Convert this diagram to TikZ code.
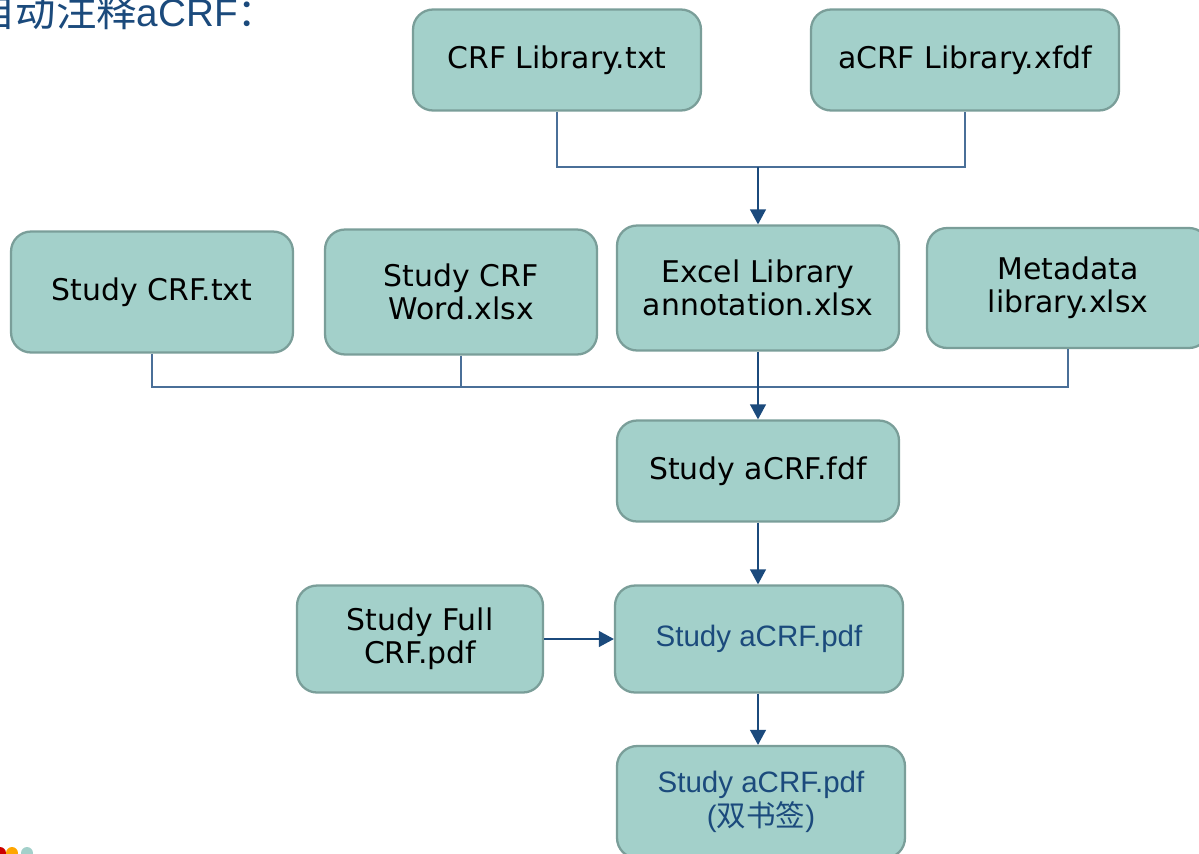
\documentclass[tikz,border=0pt]{standalone}
\usepackage{fontspec}
\setmainfont{DejaVu Sans}
\newfontfamily\arialfont{Liberation Sans}
\newfontfamily\cjkfont{Noto Sans CJK SC}
\usetikzlibrary{arrows.meta}
\definecolor{boxfill}{HTML}{A3D0CA}
\definecolor{boxline}{HTML}{7A9E99}
\definecolor{linkblue}{HTML}{4A6F98}
\definecolor{navy}{HTML}{1B4A7C}

\begin{document}
\begin{tikzpicture}[x=0.02cm, y=-0.02cm,
		filebox/.style={draw=boxline, line width=1.3pt, fill=boxfill, rounded corners=0.4cm,
			align=center, inner sep=0pt, font=\fontsize{17}{19}\selectfont},
		pdfbox/.style={filebox, text=navy, font=\arialfont\fontsize{16.8}{19}\selectfont},
		link/.style={draw=linkblue, line width=0.8pt},
		arrow/.style={link, draw=navy, -{Triangle[length=8.5pt, width=9pt]}}]
			\useasboundingbox (0,0) rectangle (1199,853);
			\clip (0,0) rectangle (1199,853);
			% title
			\node[anchor=base west, inner sep=0pt, text=navy, font=\fontsize{23}{25}\selectfont] (title) at (-25,26)
				{\cjkfont 自动注释\arialfont\fontsize{22}{25}\selectfont aCRF\cjkfont ：};
			% libraries
			\node[filebox, minimum width=5.76cm, minimum height=2.02cm] (crflib) at (557,60) {CRF Library.txt};
			\node[filebox, minimum width=6.16cm, minimum height=2.02cm] (acrflib) at (965,60) {aCRF Library.xfdf};
			% study inputs
			\node[filebox, minimum width=5.64cm, minimum height=2.42cm] (studytxt) at (152,292) {Study CRF.txt};
			\node[filebox, minimum width=5.44cm, minimum height=2.5cm] (studyword) at (461,292) {Study CRF\\Word.xlsx};
			\node[filebox, minimum width=5.64cm, minimum height=2.5cm] (excel) at (758,288) {Excel Library\\annotation.xlsx};
			\node[filebox, minimum width=5.64cm, minimum height=2.4cm] (metadata) at (1068,288) {Metadata\\library.xlsx};
			% outputs
			\node[filebox, minimum width=5.64cm, minimum height=2.02cm] (fdf) at (758,471) {Study aCRF.fdf};
			\node[filebox, minimum width=4.92cm, minimum height=2.14cm] (fullcrf) at (420,639) {Study Full\\CRF.pdf};
			\node[pdfbox, minimum width=5.76cm, minimum height=2.14cm] (acrfpdf) at (759,639) {Study aCRF.pdf};
			\node[pdfbox, minimum width=5.76cm, minimum height=2.24cm] (bookmark) at (761,802) {Study aCRF.pdf\\(\cjkfont 双书签\arialfont)};
			% connectors
			\coordinate (libjoin) at (758,167);
			\coordinate (studyjoin) at (758,387);
			\draw[link] (crflib.south) |- (libjoin) -| (acrflib.south);
			\draw[arrow] (libjoin) -- (excel.north);
			\draw[link] (studytxt.south) |- (studyjoin);
			\draw[link] (studyword.south) |- (studyjoin);
			\draw[link] (metadata.south) |- (studyjoin);
			\draw[arrow] (excel.south) -- (fdf.north);
			\draw[arrow] (fdf.south) -- (fdf.south |- acrfpdf.north);
			\draw[arrow] (fullcrf.east) -- (acrfpdf.west);
			\draw[arrow] (fdf.south |- acrfpdf.south) -- (fdf.south |- bookmark.north);
			% logo dots
			\fill[red!80!black] (0,853) circle (6);
			\fill[orange!70!yellow] (12,853) circle (6);
			\fill[boxfill] (27,853) circle (6);
		\end{tikzpicture}
\end{document}
